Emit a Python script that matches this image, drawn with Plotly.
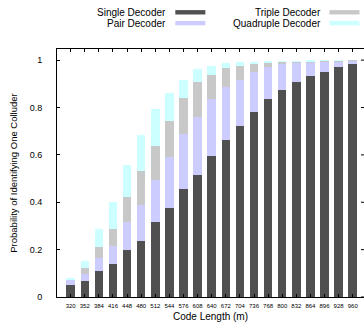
import numpy as np
import plotly.graph_objects as go

# Code lengths (categories)
code_lengths = ["320", "352", "384", "416", "448", "480", "512", "544", "576", "608", "640",
                "672", "704", "736", "768", "800", "832", "864", "896", "928", "960"]

# Cumulative probability of identifying one colluder (top of each stacked segment)
single_decoder = [0.052, 0.069, 0.111, 0.141, 0.200, 0.238, 0.318, 0.377, 0.454, 0.517, 0.597,
                  0.661, 0.724, 0.779, 0.834, 0.876, 0.906, 0.931, 0.952, 0.969, 0.982]
pair_decoder = [0.073, 0.099, 0.166, 0.217, 0.318, 0.390, 0.492, 0.589, 0.690, 0.762, 0.838,
                0.885, 0.918, 0.948, 0.969, 0.982, 0.990, 0.992, 0.996, 0.996, 0.998]
triple_decoder = [0.075, 0.124, 0.213, 0.289, 0.424, 0.530, 0.639, 0.745, 0.842, 0.906, 0.939,
                  0.965, 0.977, 0.986, 0.990, 0.993, 0.994, 0.996, 0.997, 0.997, 0.999]
quadruple_decoder = [0.082, 0.154, 0.289, 0.403, 0.559, 0.682, 0.792, 0.863, 0.918, 0.961, 0.977,
                     0.990, 0.994, 0.994, 0.996, 0.996, 0.996, 0.998, 0.998, 0.998, 0.999]

series_names = ["Single Decoder", "Pair Decoder", "Triple Decoder", "Quadruple Decoder"]
colors = ["#505050", "#ccccff", "#c8c8c8", "#ccffff"]

cum = np.array([single_decoder, pair_decoder, triple_decoder, quadruple_decoder])
inc = np.vstack([cum[0], np.diff(cum, axis=0)])

FONT = "Liberation Sans, Arial, sans-serif"
W, H = 364, 329
ML, MR, MT, MB = 57.3, 0, 49.3, 31.7

fig = go.Figure()
for name, vals, col in zip(series_names, inc, colors):
    fig.add_trace(go.Bar(x=code_lengths, y=vals, name=name, marker=dict(color=col, line=dict(width=0)),
                         showlegend=False))

plot_w = W - ML - MR
plot_h = H - MT - MB


def px2paper(px, py):
    return (px - ML) / plot_w, (H - MB - py) / plot_h


annotations = []
shapes = []
legend_items = [
    (series_names[0], colors[0], 168.5, 175.5, 12.6),
    (series_names[1], colors[1], 168.5, 175.5, 23.4),
    (series_names[2], colors[2], 323.5, 329.5, 12.6),
    (series_names[3], colors[3], 323.5, 329.5, 23.4),
]
for name, col, tx, sx, cy in legend_items:
    ax, ay = px2paper(tx, cy)
    annotations.append(dict(text=name, x=ax, y=ay, xref="paper", yref="paper", xanchor="right",
                            yanchor="middle", showarrow=False, font=dict(family=FONT, size=10, color="#000")))
    x0, y0 = px2paper(sx, cy + 2.2)
    x1, y1 = px2paper(sx + 30, cy - 2.2)
    shapes.append(dict(type="rect", xref="paper", yref="paper", x0=x0, x1=x1, y0=y0, y1=y1,
                       fillcolor=col, line=dict(width=0)))

# right-side inward ticks (no right border line), as in the original
for v in [0, 0.2, 0.4, 0.6, 0.8, 1]:
    shapes.append(dict(type="line", xref="paper", yref="y", x0=1 - 3 / plot_w, x1=1, y0=v, y1=v,
                       line=dict(color="#000", width=1)))

fig.update_layout(
    width=W, height=H,
    margin=dict(l=ML, r=MR, t=MT, b=MB, pad=0, autoexpand=False),
    paper_bgcolor="white", plot_bgcolor="white",
    barmode="stack", bargap=0.4,
    font=dict(family=FONT, size=10, color="#000"),
    annotations=annotations, shapes=shapes,
    xaxis=dict(
        type="category", range=[-0.97, 20.8], automargin=False,
        showline=True, linecolor="#000", linewidth=1, mirror="ticks",
        ticks="inside", ticklen=3, tickcolor="#000", tickwidth=1,
        showgrid=False, zeroline=False,
        tickfont=dict(family=FONT, size=6, color="#000"),
        ticklabelstandoff=3,
        title=dict(text="Code Length (m)", font=dict(family=FONT, size=10), standoff=4),
    ),
    yaxis=dict(
        range=[0, 1.047], automargin=False,
        tickvals=[0, 0.2, 0.4, 0.6, 0.8, 1], ticktext=["0", "0.2", "0.4", "0.6", "0.8", "1"],
        showline=True, linecolor="#000", linewidth=1,
        ticks="inside", ticklen=3, tickcolor="#000", tickwidth=1,
        showgrid=False, zeroline=False,
        tickfont=dict(family=FONT, size=9, color="#000"),
        ticklabelstandoff=12,
        title=dict(text="Probability of Identifying One Colluder", font=dict(family=FONT, size=9.5), standoff=10),
    ),
)

fig.write_html("out.html", config={"displayModeBar": False},
               post_script="document.body.style.margin='0';document.body.style.overflow='hidden';")
